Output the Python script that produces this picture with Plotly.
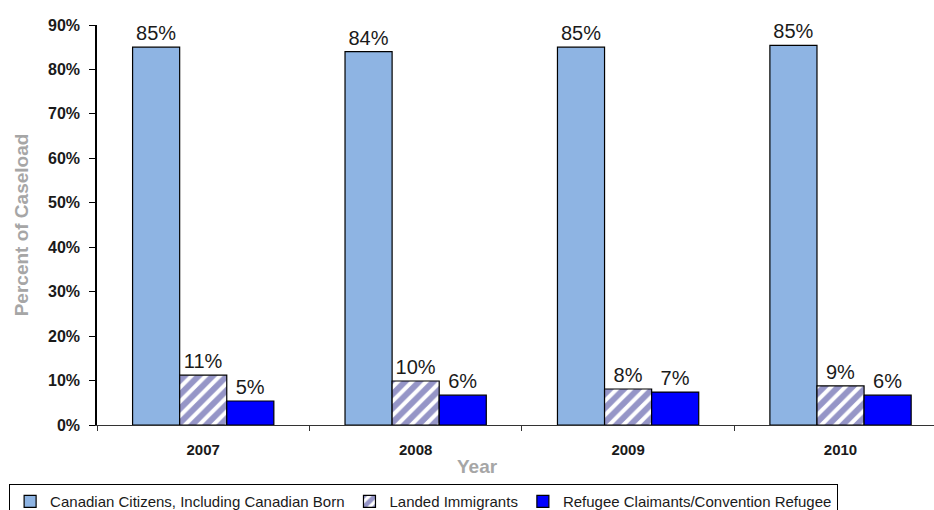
import plotly.graph_objects as go

years = ["2007", "2008", "2009", "2010"]
citizens = [85.0, 84.0, 85.0, 85.4]
landed = [11.2, 9.9, 8.1, 8.8]
refugee = [5.4, 6.7, 7.4, 6.7]
citizens_lbl = ["85%", "84%", "85%", "85%"]
landed_lbl = ["11%", "10%", "8%", "9%"]
refugee_lbl = ["5%", "6%", "7%", "6%"]
y_ticks = [0, 10, 20, 30, 40, 50, 60, 70, 80, 90]
y_tick_text = [f"{v}%" for v in y_ticks]

names = ["Canadian Citizens, Including Canadian Born", "Landed Immigrants",
         "Refugee Claimants/Convention Refugee"]

FONT = "Arial, Liberation Sans"
label_font = dict(family=FONT, size=20, color="#1a1a1a")

fig = go.Figure()
fig.add_trace(go.Bar(
    x=years, y=citizens, name=names[0], text=citizens_lbl,
    textposition="outside", textfont=label_font, cliponaxis=False,
    marker=dict(color="#8EB4E3", line=dict(color="black", width=1.2)),
))
fig.add_trace(go.Bar(
    x=years, y=landed, name=names[1], text=landed_lbl,
    textposition="outside", textfont=label_font, cliponaxis=False,
    marker=dict(color="white", line=dict(color="black", width=1.2),
                pattern=dict(shape="/", fgcolor="#2B2B8F", bgcolor="white",
                             size=10, solidity=0.6)),
))
fig.add_trace(go.Bar(
    x=years, y=refugee, name=names[2], text=refugee_lbl,
    textposition="outside", textfont=label_font, cliponaxis=False,
    marker=dict(color="#0000FF", line=dict(color="black", width=1.2)),
))

fig.update_layout(
    width=934, height=510,
    margin=dict(l=97, r=0, t=25, b=85, autoexpand=False),
    paper_bgcolor="white", plot_bgcolor="white",
    barmode="group", bargap=0.335, bargroupgap=0,
    font=dict(family=FONT, color="#1a1a1a"),
    showlegend=True,
    legend=dict(
        orientation="h", x=-0.105, xanchor="left",
        y=-0.148, yanchor="top",
        font=dict(family=FONT, size=15, color="#1a1a1a"),
        bordercolor="black", borderwidth=1, bgcolor="white",
        itemwidth=30, traceorder="normal",
    ),
    annotations=[dict(
        text="Year", xref="paper", yref="paper", x=0.455, y=-0.104,
        xanchor="center", yanchor="middle", showarrow=False,
        font=dict(family=FONT, size=19, color="#A6A6A6", weight="bold"),
    )],
)
fig.update_xaxes(
    range=[-0.5, 3.44], showline=True, linecolor="#333333", linewidth=1.2,
    ticks="outside", tickson="boundaries", ticklen=5, tickcolor="#333333",
    ticklabelstandoff=11,
    tickfont=dict(family=FONT, size=15, color="#1a1a1a", weight="bold"),
    showgrid=False,
)
fig.update_yaxes(
    range=[0, 90], tickvals=y_ticks, ticktext=y_tick_text,
    showline=True, linecolor="black", linewidth=1.5,
    ticks="outside", ticklen=6, tickcolor="black",
    ticklabelstandoff=6,
    tickfont=dict(family=FONT, size=16, color="#1a1a1a", weight="bold"),
    title=dict(text="Percent of Caseload", font=dict(family=FONT, size=19,
                                                      color="#A6A6A6", weight="bold"), standoff=14),
    showgrid=False, zeroline=False,
)

fig.write_html("out.html")
